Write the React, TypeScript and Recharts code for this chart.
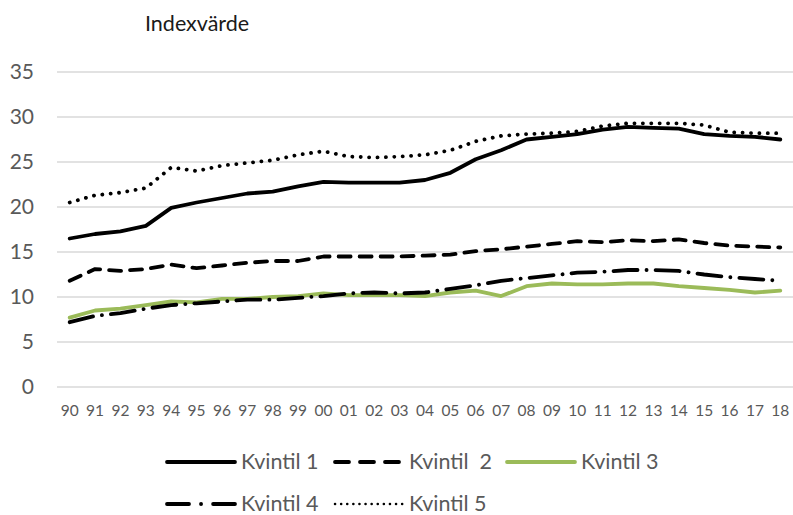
import { LineChart, Line, XAxis, YAxis, Legend, CartesianGrid } from 'recharts';

const years = ['90','91','92','93','94','95','96','97','98','99','00','01','02','03','04','05','06','07','08','09','10','11','12','13','14','15','16','17','18'];
const kvintil1 = [16.5,17.0,17.3,17.9,19.9,20.5,21.0,21.5,21.7,22.3,22.8,22.7,22.7,22.7,23.0,23.8,25.3,26.3,27.5,27.8,28.1,28.6,28.9,28.8,28.7,28.1,27.9,27.8,27.5];
const kvintil2 = [11.8,13.1,12.9,13.1,13.6,13.2,13.5,13.8,14.0,14.0,14.5,14.5,14.5,14.5,14.6,14.7,15.1,15.3,15.6,15.9,16.2,16.1,16.3,16.2,16.4,16.0,15.7,15.6,15.5];
const kvintil3 = [7.7,8.5,8.7,9.1,9.5,9.4,9.8,9.8,10.0,10.1,10.4,10.2,10.2,10.2,10.1,10.5,10.7,10.1,11.2,11.5,11.4,11.4,11.5,11.5,11.2,11.0,10.8,10.5,10.7];
const kvintil4 = [7.2,7.9,8.2,8.7,9.1,9.3,9.5,9.7,9.7,9.9,10.1,10.4,10.5,10.4,10.5,10.9,11.3,11.8,12.1,12.4,12.7,12.8,13.0,13.0,12.9,12.5,12.2,12.0,11.8];
const kvintil5 = [20.5,21.3,21.6,22.1,24.4,24.0,24.6,24.9,25.2,25.8,26.2,25.6,25.5,25.6,25.8,26.3,27.3,27.9,28.1,28.2,28.4,29.0,29.3,29.3,29.3,29.1,28.3,28.2,28.2];
const yTicks = [0, 5, 10, 15, 20, 25, 30, 35];

const data = years.map((y, i) => ({
  year: y,
  k1: kvintil1[i],
  k2: kvintil2[i],
  k3: kvintil3[i],
  k4: kvintil4[i],
  k5: kvintil5[i],
}));

const series = [
  { key: 'k1', name: 'Kvintil 1', color: '#000000', dash: undefined, legendDash: undefined },
  { key: 'k2', name: 'Kvintil  2', color: '#000000', dash: '12 9', legendDash: '14 11' },
  { key: 'k3', name: 'Kvintil 3', color: '#9bbb59', dash: undefined, legendDash: undefined },
  { key: 'k4', name: 'Kvintil 4', color: '#000000', dash: '24 9 0.1 9', legendDash: '22 12 0.1 12' },
  { key: 'k5', name: 'Kvintil 5', color: '#000000', dash: '0.1 8.3', legendDash: '0.1 6' },
];

const font = 'Lato, "Open Sans", sans-serif';

const renderLegend = () => (
  <div style={{ height: 100, paddingTop: 26, boxSizing: 'border-box', paddingLeft: 165 }}>
    <div style={{ display: 'flex', flexWrap: 'wrap', width: 520 }}>
      {series.map((s, i) => (
        <div
          key={s.key}
          style={{ display: 'flex', alignItems: 'center', height: 42, width: i === 1 ? 172 : 168 }}
        >
          <svg width={72} height={10} style={{ marginRight: 4 }}>
            <line
              x1={2}
              y1={5}
              x2={70}
              y2={5}
              stroke={s.color}
              strokeWidth={s.key === 'k5' ? 2.5 : 3.8}
              strokeDasharray={s.legendDash}
              strokeLinecap="round"
            />
          </svg>
          <span style={{ fontFamily: font, fontSize: 21.5, color: '#595959', whiteSpace: 'pre', lineHeight: 1 }}>
            {s.name}
          </span>
        </div>
      ))}
    </div>
  </div>
);

export default function App() {
  return (
    <div style={{ position: 'absolute', left: 0, top: 0, width: 793, height: 515, background: '#fff' }}>
      <div
        style={{
          position: 'absolute',
          left: 145,
          top: 11,
          fontFamily: font,
          fontSize: 21.5,
          lineHeight: 1.2,
          color: '#1a1a1a',
        }}
      >
        Indexvärde
      </div>
      <LineChart width={793} height={515} data={data} margin={{ top: 72, right: 0, left: 0, bottom: 0 }}>
        <CartesianGrid vertical={false} stroke="#d9d9d9" strokeWidth={1.5} />
        <XAxis
          dataKey="year"
          axisLine={false}
          tickLine={false}
          interval={0}
          height={28}
          tickMargin={12}
          padding={{ left: 12.7, right: 12.7 }}
          tick={{ fill: '#595959', fontSize: 15.5, fontFamily: font }}
        />
        <YAxis
          domain={[0, 35]}
          ticks={yTicks}
          width={57}
          axisLine={false}
          tickLine={false}
          tickMargin={17}
          tick={{ fill: '#595959', fontSize: 21, fontFamily: font }}
        />
        <Legend verticalAlign="bottom" content={renderLegend} wrapperStyle={{ left: 0, width: 793 }} />
        {series.map((s) => (
          <Line
            key={s.key}
            type="linear"
            dataKey={s.key}
            name={s.name}
            stroke={s.color}
            strokeWidth={3.8}
            strokeDasharray={s.dash}
            strokeLinecap="round"
            strokeLinejoin="round"
            dot={false}
            activeDot={false}
            isAnimationActive={false}
          />
        ))}
      </LineChart>
    </div>
  );
}
